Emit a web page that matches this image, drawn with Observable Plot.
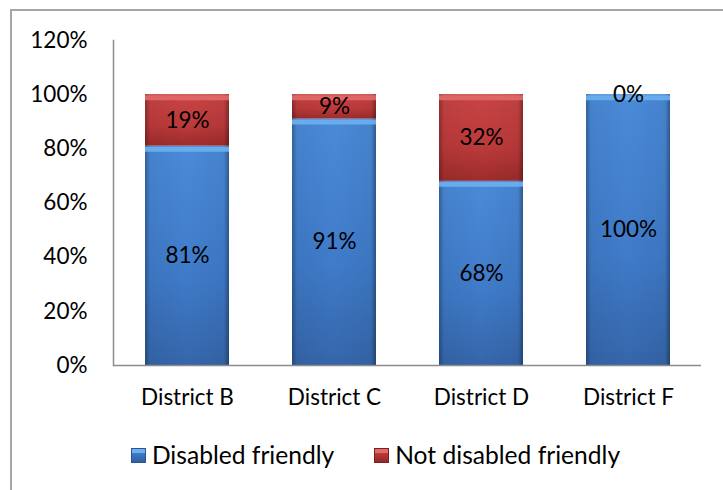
<!DOCTYPE html>
<html>
<head>
<meta charset="utf-8">
<script src="https://cdn.jsdelivr.net/npm/d3@7"></script>
<script src="https://cdn.jsdelivr.net/npm/@observablehq/plot@0.6"></script>
<style>
  body { margin: 0; background: #fff; font-family: Lato, "Open Sans", sans-serif; }
  #frame { position: absolute; left: 10px; top: 9px; width: 740px; height: 500px; border: 2px solid #a6a6a6; box-sizing: border-box; }
  #chart { position: absolute; left: 0; top: 0; }
  #legend { position: absolute; left: 0; top: 440px; width: 723px; display: flex; justify-content: center; gap: 40px; font-size: 24.6px; color: #000; padding-left: 28px; box-sizing: border-box; line-height: 30px; }
  #legend .item { display: flex; align-items: center; gap: 6px; }
  #legend .sw { width: 15px; height: 15px; display: inline-block; }
</style>
</head>
<body>
<div id="frame"></div>
<div id="chart"></div>
<div id="legend"></div>
<script>
const districts = ["District B", "District C", "District D", "District F"];
const disabledFriendly = [81, 91, 68, 100];
const notDisabledFriendly = [19, 9, 32, 0];
const seriesNames = ["Disabled friendly", "Not disabled friendly"];
const yTicks = [0, 20, 40, 60, 80, 100, 120];

const rows = [];
districts.forEach((d, i) => {
  rows.push({district: d, series: seriesNames[0], value: disabledFriendly[i]});
  rows.push({district: d, series: seriesNames[1], value: notDisabledFriendly[i]});
});

const fillFor = s => s === seriesNames[0] ? "url(#gBlue)" : "url(#gRed)";
const bevelFor = s => s === seriesNames[0] ? "#6db0f0" : "#e26a6a";

const stackOpts = {x: "district", y: "value", z: "series", order: seriesNames};
const FS = 22.5;

const chart = Plot.plot({
  width: 723,
  height: 430,
  marginLeft: 113,
  marginRight: 22,
  marginTop: 40,
  marginBottom: 65,
  style: {fontFamily: "Lato, 'Open Sans', sans-serif", fontSize: FS + "px", color: "#000", background: "transparent"},
  x: {domain: districts, paddingInner: 0.43, paddingOuter: 0.215, label: null},
  y: {domain: [0, 120], ticks: yTicks, tickFormat: d => d + "%", label: null},
  marks: [
    Plot.axisY({ticks: yTicks, tickFormat: d => d + "%", tickSize: 0, tickPadding: 26, fontSize: FS, fill: "#000"}),
    Plot.axisX({tickSize: 0, tickPadding: 24, fontSize: FS, fill: "#000"}),
    Plot.barY(rows, Plot.stackY({...stackOpts, fill: d => fillFor(d.series), style: "filter: drop-shadow(2px 2px 2px rgba(0,0,0,0.35))"})),
    Plot.barY(rows, Plot.stackY({...stackOpts, fill: "url(#gEdge)"})),
    Plot.tickY(rows, Plot.stackY2({...stackOpts, stroke: d => bevelFor(d.series), strokeWidth: 5, dy: 3, strokeOpacity: d => d.value > 0 ? 0.9 : 0})),
    Plot.frame({anchor: "left", stroke: "#8c8c8c", strokeWidth: 1.5}),
    Plot.ruleY([0], {stroke: "#8c8c8c", strokeWidth: 1.5}),
    Plot.text(rows, Plot.stackY({...stackOpts, text: d => d.value + "%", fontSize: FS, fill: "#000"}))
  ]
});

// gradients
const ns = "http://www.w3.org/2000/svg";
const defs = document.createElementNS(ns, "defs");
defs.innerHTML = `
  <linearGradient id="gBlue" x1="0" y1="0" x2="0" y2="1">
    <stop offset="0" stop-color="#4a8ad8"/>
    <stop offset="0.6" stop-color="#3f7bc9"/>
    <stop offset="1" stop-color="#3566aa"/>
  </linearGradient>
  <linearGradient id="gRed" x1="0" y1="0" x2="0" y2="1">
    <stop offset="0" stop-color="#c94444"/>
    <stop offset="0.6" stop-color="#bd3a3a"/>
    <stop offset="1" stop-color="#9e2c2c"/>
  </linearGradient>
  <linearGradient id="gEdge" x1="0" y1="0" x2="1" y2="0">
    <stop offset="0" stop-color="#000" stop-opacity="0.3"/>
    <stop offset="0.06" stop-color="#000" stop-opacity="0.05"/>
    <stop offset="0.5" stop-color="#000" stop-opacity="0"/>
    <stop offset="0.94" stop-color="#000" stop-opacity="0.05"/>
    <stop offset="1" stop-color="#000" stop-opacity="0.35"/>
  </linearGradient>`;
chart.insertBefore(defs, chart.firstChild);
document.getElementById("chart").appendChild(chart);

// legend
const legend = document.getElementById("legend");
const swatchColors = ["linear-gradient(#6db0f0 0 30%, #3f7bc9 30%, #2f5f9f)", "linear-gradient(#e26a6a 0 30%, #bd3a3a 30%, #922828)"];
seriesNames.forEach((s, i) => {
  const item = document.createElement("div");
  item.className = "item";
  const sw = document.createElement("span");
  sw.className = "sw";
  sw.style.background = swatchColors[i];
  sw.style.border = "1px solid " + (i === 0 ? "#2a5590" : "#7a2020");
  sw.style.boxSizing = "border-box";
  const t = document.createElement("span");
  t.textContent = s;
  item.append(sw, t);
  legend.appendChild(item);
});
</script>
</body>
</html>
